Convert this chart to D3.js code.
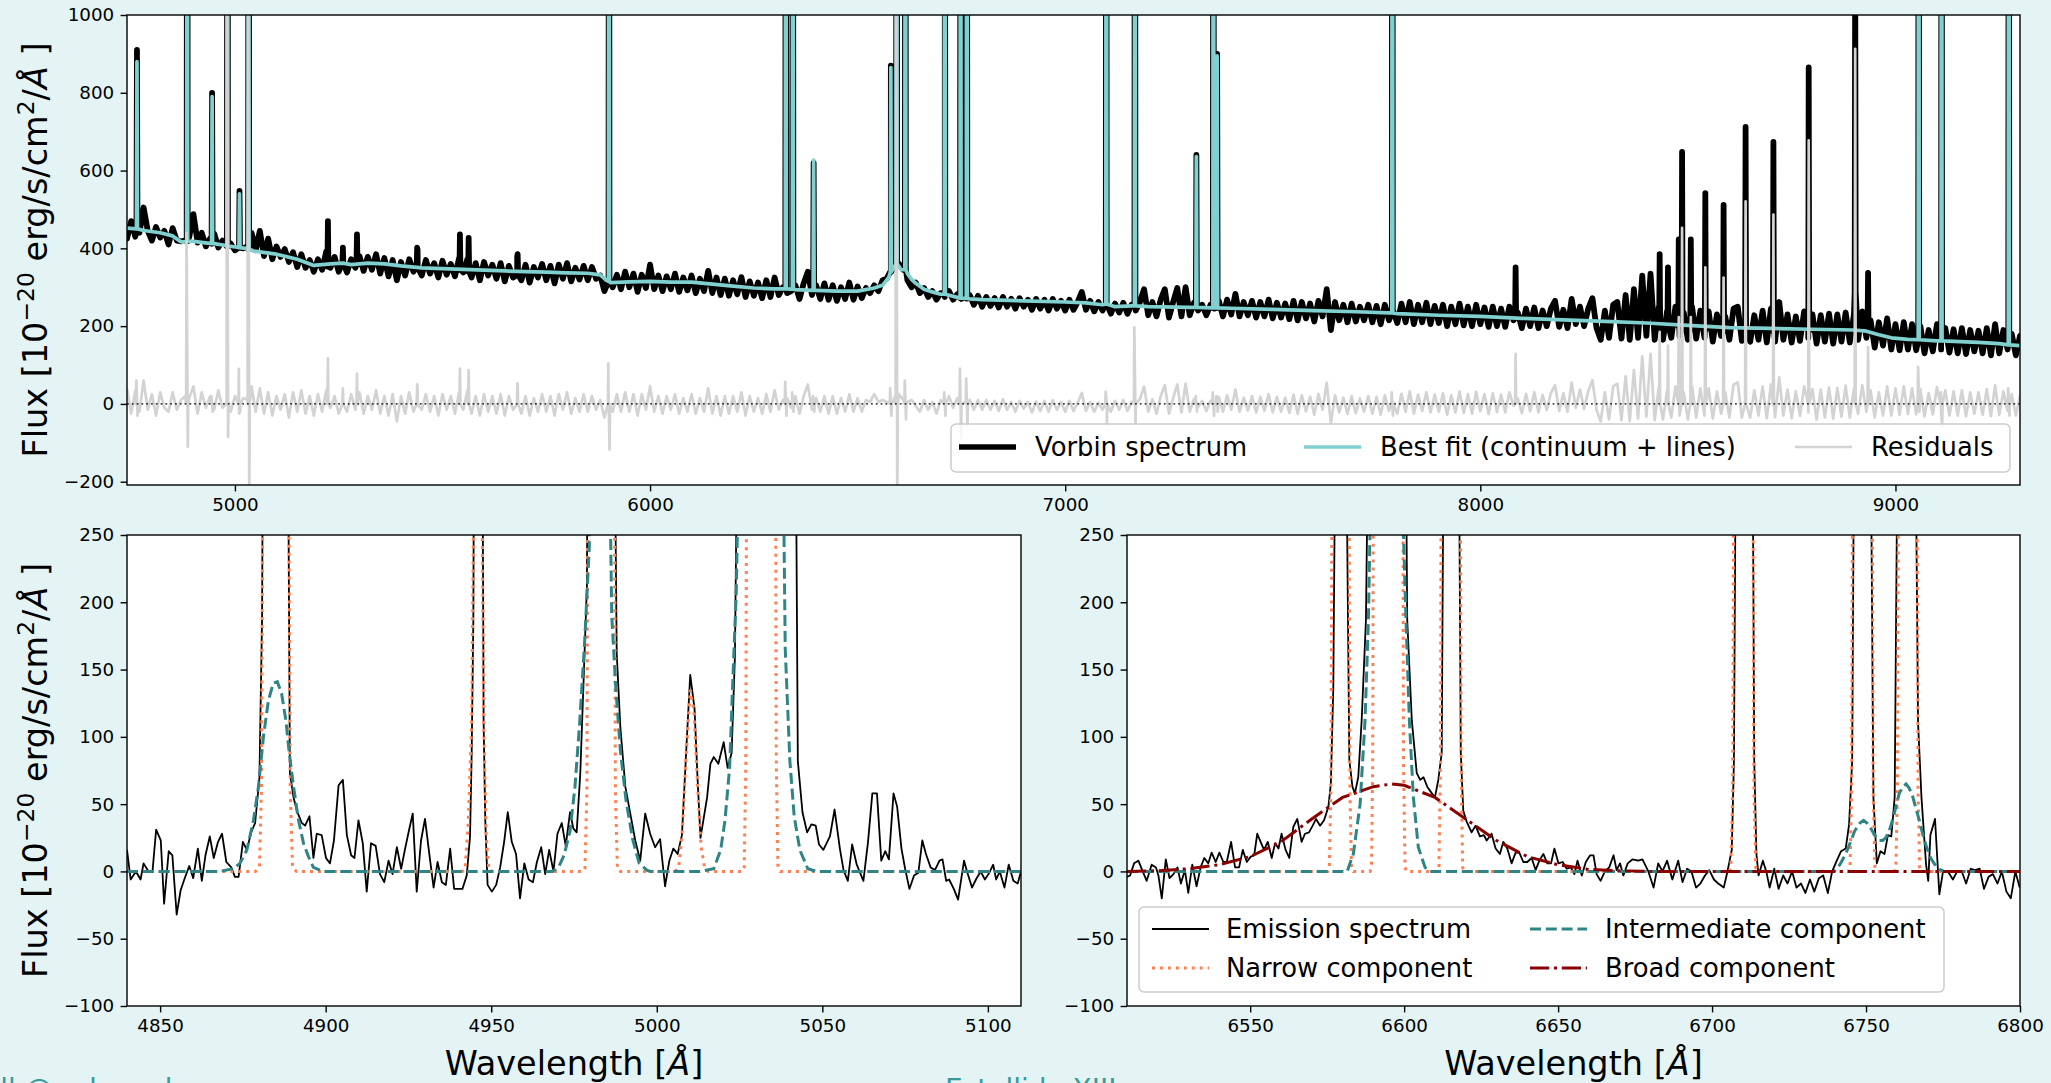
<!DOCTYPE html>
<html><head><meta charset="utf-8">
<script src="https://cdn.jsdelivr.net/npm/d3@7"></script>
<style>
html,body{margin:0;padding:0;background:#e4f4f4;}
svg{display:block;font-family:"DejaVu Sans",sans-serif;}
</style></head><body>
<svg id="c" width="2051" height="1083"></svg>
<script>
// ================= DATA =================
// ---- Top panel: full spectrum (sampled every 10 Å from 4740 Å) ----
const topWaveStart = 4740, topWaveStep = 10;
const topObsFlux = [
425,470,430,440,505,445,420,455,428,445,
410,452,420,418,420,430,488,415,440,405,
425,438,402,420,405,412,395,420,400,405,
440,395,445,380,425,372,405,378,398,365,
390,352,385,350,370,340,372,345,392,350,
378,340,395,338,372,350,380,342,378,345,
385,335,375,328,370,318,365,330,372,340,
395,330,370,335,362,325,368,332,360,328,
375,338,372,325,362,318,365,330,358,322,
362,315,355,325,380,318,358,312,352,325,
360,318,355,310,358,322,362,315,350,320,
355,318,352,322,330,290,318,300,332,295,
340,300,335,288,332,298,358,295,330,290,
328,295,335,288,325,292,330,285,322,290,
342,285,325,280,322,278,318,282,326,275,
315,278,312,272,318,275,325,280,300,285,
290,305,270,310,340,280,305,270,310,268,
305,265,300,270,312,268,302,272,298,285,
305,290,318,322,340,355,360,345,318,300,
312,285,298,275,290,268,285,275,290,268,
282,270,275,280,255,278,250,275,252,272,
248,275,250,270,245,272,250,268,242,270,
245,268,240,270,245,265,240,268,242,262,
288,242,265,238,262,240,255,232,258,235,
260,232,255,240,262,295,228,262,225,268,
295,222,262,298,225,300,228,260,240,255,
228,255,245,265,225,268,230,283,225,262,
228,265,222,262,225,268,220,260,222,258,
218,265,215,262,220,258,212,265,225,295,
190,262,215,255,210,258,212,250,215,255,
210,252,205,255,215,240,208,258,210,262,
205,255,210,260,205,252,208,255,200,250,
205,258,202,250,200,255,205,248,198,250,
200,245,198,250,215,235,195,245,200,248,
195,240,200,245,265,198,242,195,270,205,
250,200,245,272,195,165,240,170,255,262,
168,280,165,295,170,330,175,335,165,250,
165,240,170,250,175,235,165,250,168,240,
170,238,160,230,175,225,165,245,250,162,
235,160,228,165,240,158,245,160,262,165,
230,158,225,162,238,170,230,155,228,160,
232,155,230,160,235,158,230,165,238,170,
215,145,210,150,220,140,205,138,210,140,
205,138,200,130,190,135,205,140,195,132,
192,130,195,128,190,135,188,130,195,125,
205,130,190,140,180,125,175];
const topResid = [
40,-25,35,-20,60,-15,25,-30,30,-10,
-20,30,-15,10,20,15,45,-25,30,-10,
20,-15,35,-10,25,-20,20,-25,15,10,
45,-20,40,-25,30,-30,20,-15,25,-35,
30,-20,35,-25,20,-30,25,-20,35,-10,
20,-25,40,-20,25,-15,30,-25,20,-15,
35,-25,20,-30,25,-45,20,-25,30,-20,
45,-15,25,-20,20,-30,25,-15,20,-25,
30,-15,35,-25,20,-30,25,-20,20,-25,
25,-30,20,-15,45,-25,20,-30,15,-20,
25,-20,20,-30,25,-15,30,-25,15,-20,
25,-20,20,-15,10,-35,15,-20,25,-20,
30,-20,25,-30,25,-15,45,-20,20,-25,
20,-15,25,-25,15,-20,25,-25,15,-20,
40,-25,20,-30,20,-25,20,-20,30,-30,
20,-20,15,-25,25,-20,35,-15,10,15,
-10,20,-25,20,50,-15,15,-20,20,-25,
20,-25,15,-20,25,-20,15,-20,10,5,
25,5,10,5,-10,20,25,10,5,10,
-5,-20,10,-15,5,-25,10,0,20,-10,
15,0,5,10,-15,10,-15,10,-15,8,
-18,12,-15,5,-20,8,-12,5,-22,6,
-18,8,-20,10,-15,5,-20,8,-18,3,
28,-18,5,-20,3,-15,5,-20,8,-15,
10,-18,5,-10,12,45,-20,12,-25,20,
48,-25,15,50,-22,52,-20,12,-8,8,
-18,8,-2,18,-20,22,-15,37,-20,16,
-17,20,-22,18,-18,25,-22,18,-20,16,
-23,24,-25,22,-19,18,-28,25,-15,55,
-50,22,-22,16,-26,20,-24,14,-20,20,
-25,18,-28,22,-18,5,-25,26,-20,32,
-25,24,-18,30,-22,24,-20,27,-28,22,
-22,32,-23,25,-25,31,-19,25,-26,27,
-21,24,-22,30,-5,15,-24,26,-19,30,
-22,23,-16,28,48,-18,27,-20,55,-10,
37,-13,33,61,-16,-45,30,-40,45,52,
-42,71,-44,87,-38,122,-33,129,-42,45,
-40,35,-35,45,-30,30,-40,45,-35,40,
-30,40,-38,32,-25,30,-35,50,55,-35,
40,-35,35,-30,45,-37,50,-34,68,-30,
37,-37,32,-31,45,-22,38,-40,36,-35,
42,-38,41,-33,47,-35,40,-25,48,-20,
35,-35,30,-30,45,-30,40,-28,45,-26,
40,-27,38,-32,28,-27,43,-22,35,-30,
32,-30,35,-32,30,-25,30,-28,38,-32,
48,-28,32,-18,25,-30,20];
// best-fit continuum knots
const fitKnotWave = [4740,4780,4820,4850,4868,4875,4900,4950,4975,5000,5025,5045,5100,5150,5190,5230,5260,5280,5320,5360,5400,5450,5500,5550,5600,5650,5700,5750,5800,5850,5880,5895,5905,5950,6000,6050,6100,6150,6200,6250,6300,6350,6400,6450,6500,6540,6560,6575,6605,6620,6630,6640,6660,6680,6700,6770,6800,6900,7000,7050,7090,7120,7160,7200,7300,7400,7500,7600,7700,7780,7800,7900,8000,8100,8200,8300,8400,8500,8600,8700,8800,8900,8930,8960,8990,9030,9100,9200,9250,9300];
const fitKnotFlux = [452,446,440,432,418,416,418,412,408,404,400,393,385,372,356,360,362,358,362,360,355,350,348,346,344,342,340,339,337,336,332,318,312,314,315,313,313,308,303,298,296,294,292,290,290,298,305,325,345,335,320,310,295,288,282,270,268,265,262,260,255,250,252,250,248,246,243,240,237,234,232,228,225,220,216,212,208,202,196,194,192,190,187,178,170,166,162,158,155,150];
// fitted emission lines
const lineWave    = [4764,4885,4945,4982,5011,5033,5901,6327,6344,6394,6580,6594,6615,6710,6748,6763,7099,7168,7316,7357,7366,7788,9056,9111,9273];
const lineBase    = [450,418,412,406,402,398,315,296,295,292,340,360,345,282,272,271,257,252,248,247,247,234,165,162,152];
const lineFitPeak = [880,3000,790,3000,540,3000,3000,3000,3000,627,865,5000,3000,3000,3000,3000,3000,3000,636,3000,895,3000,3000,3000,3000];
const lineObsPeak = [910,3000,800,3000,548,3000,3000,3000,3000,620,870,5000,3000,3000,3000,3000,3000,3000,640,3000,900,3000,3000,3000,3000];
const lineResHi   = [60,440,20,1500,90,1500,104,57,30,20,40,1500,60,30,91,65,31,197,20,30,20,30,95,30,40];
const lineResLo   = [-30,-110,-20,-85,-20,-300,-117,-30,-20,-20,-30,-300,-40,-30,-88,-54,-54,-50,-20,-30,-20,-30,-20,-58,-30];
// unfitted features in the observed spectrum
const extraWave  = [5224,5260,5294,5439,5542,5563,5681,8085,8432,8452,8478,8486,8507,8542,8586,8639,8706,8791,8903,8934];
const extraObs   = [470,402,436,402,436,427,385,351,385,351,423,648,423,542,512,712,674,865,1200,337];
const extraResid = [117,40,78,50,91,87,53,129,185,150,223,453,223,351,325,521,487,678,913,146];
const topXTicks = [5000,6000,7000,8000,9000];
const topYTicks = [-200,0,200,400,600,800,1000];

// ---- Bottom-left panel: Hβ / [OIII] region ----
const emisLeft = [[4840.0,16],[4841.1,-6],[4842.7,0],[4844.1,-6],[4845.0,6],[4846.5,0],[4847.7,0],[4848.8,31],[4850.2,23],[4851.2,-24],[4852.6,15],[4853.7,12],[4855.0,-32],[4856.2,-14],[4857.3,-6],[4858.8,4],[4860.0,-5],[4861.4,17],[4862.6,-7],[4863.7,12],[4865.0,26],[4866.2,10],[4867.5,22],[4868.7,28],[4870.0,7],[4871.5,3],[4872.6,-4],[4873.7,-4],[4875.0,22],[4876.2,16],[4877.5,29],[4878.7,36],[4880.0,70],[4880.8,190],[4882.0,900],[4883.2,1800],[4884.5,2500],[4885.7,2500],[4887.0,1800],[4888.1,700],[4888.7,300],[4889.2,73],[4890.3,55],[4891.3,45],[4892.8,36],[4893.8,34],[4895.1,41],[4896.3,10],[4897.3,28],[4898.8,27],[4900.1,10],[4901.3,6],[4902.5,23],[4903.9,64],[4905.2,68],[4906.4,27],[4907.7,12],[4908.7,10],[4909.9,38],[4911.2,21],[4912.4,-15],[4913.7,21],[4915.1,19],[4916.4,-2],[4917.7,-8],[4919.0,8],[4920.2,-2],[4921.5,18],[4922.8,2],[4924.0,17],[4925.2,31],[4926.3,43],[4927.5,-15],[4928.8,23],[4930.0,39],[4931.3,13],[4932.6,-12],[4933.8,7],[4935.1,-8],[4936.3,-10],[4937.6,17],[4938.8,-13],[4940.1,-13],[4941.3,-13],[4942.6,-3],[4943.6,26],[4944.1,88],[4944.6,187],[4945.2,600],[4946.2,900],[4947.1,500],[4947.7,112],[4948.2,38],[4948.9,-10],[4950.2,-15],[4951.5,-10],[4952.7,3],[4953.9,22],[4955.0,44],[4956.2,22],[4957.5,13],[4958.7,-20],[4960.0,6],[4961.3,-6],[4962.6,-8],[4963.8,7],[4965.1,18],[4966.3,-2],[4967.5,16],[4968.8,0],[4970.0,28],[4971.3,36],[4972.5,19],[4973.8,44],[4974.8,32],[4975.8,29],[4976.9,73],[4977.9,142],[4978.9,212],[4979.6,600],[4981.0,2000],[4983.0,3000],[4985.0,2000],[4986.5,800],[4987.2,350],[4987.9,162],[4989.0,107],[4990.5,63],[4992.0,43],[4993.5,23],[4995.0,8],[4996.5,43],[4998.0,28],[4999.5,18],[5001.0,24],[5002.5,-11],[5003.8,8],[5005.0,17],[5006.3,13],[5007.6,27],[5008.9,90],[5010.1,146],[5011.4,121],[5012.3,70],[5013.2,25],[5014.2,40],[5015.2,55],[5016.2,80],[5017.2,85],[5018.6,80],[5020.2,96],[5021.4,77],[5022.6,88],[5023.6,160],[5024.2,300],[5025.5,1500],[5030.0,5000],[5035.0,5000],[5040.0,1500],[5041.8,400],[5042.6,82],[5044.0,44],[5045.4,29],[5046.7,35],[5048.0,34],[5049.0,20],[5050.3,16],[5052.3,26],[5053.7,46],[5055.3,17],[5056.4,1],[5057.7,-7],[5059.0,20],[5060.4,5],[5062.4,-7],[5063.8,22],[5065.1,58],[5066.5,58],[5067.8,8],[5069.0,15],[5070.1,9],[5071.5,58],[5072.6,48],[5073.9,17],[5075.0,2],[5076.3,-13],[5077.7,-3],[5079.0,-1],[5080.2,23],[5081.3,13],[5082.7,3],[5084.0,1],[5085.4,8],[5086.3,9],[5087.4,-7],[5088.3,-6],[5089.7,-13],[5091.0,-21],[5092.8,8],[5093.7,0],[5095.2,-12],[5096.4,-6],[5097.8,0],[5099.1,-6],[5100.2,-2],[5101.6,5],[5102.5,-6],[5103.6,0],[5105.0,-12],[5106.3,5],[5107.7,-7],[5109.0,-9],[5110.0,0]];
const narrowLeft = [[4840,0],[4878.8,0],[4880.0,3],[4880.6,60],[4881.2,400],[4882.5,2000],[4885.0,5000],[4887.5,2000],[4888.7,400],[4889.3,60],[4890.0,3],[4891.2,0],[4941.2,0],[4942.1,1],[4943.1,38],[4944.1,112],[4944.8,300],[4946.0,1000],[4947.2,300],[4947.7,112],[4948.5,26],[4949.3,1],[4950.5,0],[4977.5,0],[4978.3,2],[4978.9,60],[4979.4,500],[4983.2,6000],[4987.0,500],[4987.5,60],[4988.1,2],[4989.0,0],[5005.5,0],[5006.6,3],[5007.6,26],[5008.9,88],[5010.1,135],[5011.2,120],[5012.3,65],[5013.4,18],[5014.5,2],[5015.5,0],[5025.8,0],[5026.4,3],[5026.9,80],[5027.4,600],[5031.5,8000],[5035.6,600],[5036.1,80],[5036.6,3],[5037.3,0],[5110,0]];
const interLeft = [[4840,0],[4868.1,0],[4872.1,2],[4874.1,6],[4876.2,16],[4878.2,38],[4879.7,63],[4881.2,100],[4882.7,127],[4884.2,140],[4885.4,141],[4886.7,132],[4888.0,112],[4889.0,88],[4890.3,63],[4891.8,38],[4893.3,21],[4894.8,11],[4896.3,3],[4899.3,0],[4968.5,0],[4970.5,4],[4972.0,12],[4973.8,30],[4975.3,63],[4976.7,110],[4978.2,170],[4979.6,240],[4981.0,450],[4983.2,700],[4985.2,400],[4986.4,190],[4987.6,137],[4989.0,90],[4990.7,53],[4992.7,24],[4994.7,6],[4997.0,1],[4998.0,0],[5013.0,0],[5017.2,2],[5019.3,16],[5020.6,38],[5022.0,77],[5022.9,138],[5024.0,207],[5024.7,300],[5031.5,2000],[5038.2,300],[5038.8,165],[5040.2,82],[5041.5,41],[5043.2,16],[5045.6,2],[5048.3,0],[5110,0]];
const leftXTicks = [4850,4900,4950,5000,5050,5100];

// ---- Bottom-right panel: Hα / [NII] / [SII] region ----
const emisRight = [[6510.0,-4],[6511.0,-3],[6512.3,6],[6513.7,8],[6515.1,0],[6516.4,-7],[6518.0,5],[6519.4,3],[6520.2,-3],[6521.3,-20],[6522.6,9],[6523.8,-5],[6525.1,-2],[6526.4,3],[6527.5,-9],[6528.8,1],[6529.9,-16],[6531.2,5],[6532.6,-11],[6533.9,3],[6535.1,10],[6536.4,6],[6537.5,14],[6538.8,7],[6540.0,14],[6541.3,7],[6542.4,7],[6543.8,22],[6545.1,3],[6546.4,3],[6547.6,16],[6548.9,7],[6550.2,11],[6551.3,12],[6552.3,28],[6553.4,22],[6554.5,16],[6555.7,22],[6557.0,10],[6558.1,21],[6559.2,17],[6560.2,28],[6561.5,16],[6562.7,10],[6564.0,33],[6565.3,39],[6566.7,22],[6567.8,28],[6569.1,29],[6570.3,34],[6571.4,39],[6572.7,34],[6574.0,38],[6575.4,48],[6576.2,65],[6577.0,137],[6577.9,400],[6579.6,1500],[6581.3,300],[6582.2,83],[6583.2,63],[6584.0,58],[6585.1,70],[6586.2,112],[6587.6,187],[6588.7,400],[6594.5,8000],[6600.3,400],[6601.0,187],[6602.5,112],[6604.1,73],[6605.2,68],[6606.3,70],[6607.5,63],[6609.0,58],[6610.0,55],[6611.1,68],[6612.2,88],[6613.0,400],[6615.3,3000],[6617.6,400],[6618.4,88],[6619.2,45],[6620.3,37],[6621.9,29],[6623.2,34],[6624.6,26],[6625.9,27],[6626.8,23],[6628.4,28],[6629.7,17],[6631.1,13],[6632.2,22],[6633.5,17],[6634.9,6],[6636.2,14],[6637.4,14],[6638.7,7],[6640.0,7],[6641.4,10],[6642.7,1],[6643.9,8],[6645.2,13],[6646.5,6],[6647.7,6],[6648.8,17],[6650.1,6],[6651.5,7],[6652.8,2],[6654.1,3],[6655.3,-2],[6656.3,8],[6657.7,-3],[6659.0,7],[6660.4,12],[6661.5,12],[6662.5,-2],[6663.8,-7],[6665.2,0],[6666.6,3],[6668.0,12],[6669.0,1],[6670.1,6],[6671.2,-3],[6672.6,6],[6674.2,9],[6676.0,8],[6677.4,9],[6679.3,0],[6681.0,-12],[6682.5,6],[6683.9,0],[6685.4,8],[6687.1,-6],[6689.0,8],[6690.4,-8],[6691.9,2],[6693.3,0],[6694.8,-12],[6696.2,-9],[6697.7,-3],[6699.1,1],[6700.6,-6],[6702.0,-9],[6703.8,-12],[6705.0,0],[6706.4,16],[6707.1,82],[6707.9,400],[6710.4,3000],[6713.0,400],[6713.7,82],[6714.4,13],[6715.1,-3],[6716.5,8],[6717.6,0],[6718.7,-12],[6720.2,2],[6721.6,-13],[6723.1,-3],[6724.5,-9],[6726.0,0],[6727.4,-12],[6728.9,-9],[6730.3,-16],[6731.8,-6],[6733.2,-15],[6734.7,-5],[6736.1,-3],[6737.6,-16],[6739.0,0],[6740.5,8],[6741.9,15],[6743.4,17],[6744.5,35],[6745.5,82],[6746.3,400],[6748.8,3000],[6751.3,400],[6752.4,55],[6753.5,6],[6754.7,15],[6756.0,13],[6757.1,27],[6758.2,26],[6759.3,55],[6760.5,400],[6763.2,3000],[6765.8,400],[6766.9,110],[6768.0,55],[6769.5,5],[6770.2,-7],[6770.9,27],[6772.4,39],[6773.8,-17],[6775.0,0],[6776.6,0],[6778.2,-6],[6779.6,0],[6781.1,0],[6782.5,-9],[6784.0,2],[6785.4,1],[6786.9,2],[6788.3,-13],[6789.8,-4],[6791.2,-2],[6792.7,-9],[6794.1,0],[6795.6,-15],[6797.0,-20],[6798.5,0],[6799.9,-12]];
const narrowRight = [[6510,0],[6575.2,0],[6575.7,2],[6576.2,60],[6576.8,400],[6579.6,3000],[6582.0,400],[6582.4,60],[6582.9,2],[6583.5,0],[6588.9,0],[6589.4,3],[6589.8,80],[6590.3,600],[6594.8,8000],[6599.3,600],[6599.8,80],[6600.3,3],[6600.8,0],[6610.8,0],[6611.3,3],[6611.8,80],[6612.3,600],[6615.2,4000],[6618.0,600],[6618.5,80],[6619.0,3],[6619.6,0],[6705.6,0],[6706.1,3],[6706.7,60],[6707.3,500],[6710.2,3000],[6713.0,500],[6713.6,60],[6714.2,3],[6714.8,0],[6744.3,0],[6744.8,3],[6745.3,60],[6745.9,500],[6748.9,3000],[6751.8,500],[6752.3,60],[6752.9,3],[6753.4,0],[6759.2,0],[6759.7,3],[6760.2,60],[6760.8,500],[6763.5,3000],[6766.3,500],[6766.9,60],[6767.4,3],[6768.0,0],[6800,0]];
const interRight = [[6510,0],[6581.5,0],[6583.5,13],[6585.7,50],[6587.3,112],[6588.4,187],[6588.9,250],[6594.5,2000],[6599.8,250],[6600.6,187],[6601.7,112],[6603.0,55],[6604.6,18],[6606.8,3],[6608.4,0],[6739.7,0],[6741.5,5],[6743.4,13],[6745.0,22],[6746.3,30],[6748.0,36],[6749.2,38],[6750.3,36],[6751.3,33],[6752.8,27],[6754.3,23],[6755.4,23],[6756.4,25],[6757.5,30],[6758.6,38],[6759.7,48],[6760.8,58],[6762.0,63],[6763.0,65],[6764.0,62],[6765.1,56],[6766.2,47],[6767.3,38],[6768.4,28],[6769.5,19],[6771.0,10],[6772.4,5],[6774.0,1.5],[6775.3,0],[6800,0]];
const broadRight = [[6510,0],[6520,0.5],[6530,2],[6540,5],[6550,11],[6560,22],[6570,39],[6580,55],[6590,63],[6596,65],[6600,64],[6610,55],[6620,39],[6630,23],[6640,11],[6650,5],[6660,1.5],[6670,0.5],[6680,0],[6800,0]];
const rightXTicks = [6550,6600,6650,6700,6750,6800];
const botYTicks = [-100,-50,0,50,100,150,200,250];

// footer texts (cut off by the bottom edge in the source slide)
const footerLeft = 'Marshall @ ed.ac.uk';
const footerCenter = 'Estallido XIII';

// ================= DRAW =================
const W = 2051, H = 1083;
const svg = d3.select('#c');
svg.append('rect').attr('width', W).attr('height', H).attr('fill', '#e4f4f4');
const FS_TICK = 18.3, FS_LEG = 25.8, FS_LAB = 33.5;
const C = {cyan:'#80d0d0', gray:'#d3d3d3', orange:'#ff7f50', teal:'#2f8585', red:'#8b0000'};

function makePanel(id, box, xDom, yDom, xTicks, yTicks) {
  const x = d3.scaleLinear().domain(xDom).range([box.x0, box.x1]);
  const y = d3.scaleLinear().domain(yDom).range([box.y1, box.y0]);
  svg.append('rect').attr('x', box.x0).attr('y', box.y0)
    .attr('width', box.x1 - box.x0).attr('height', box.y1 - box.y0).attr('fill', '#fff');
  svg.append('clipPath').attr('id', id).append('rect')
    .attr('x', box.x0).attr('y', box.y0).attr('width', box.x1 - box.x0).attr('height', box.y1 - box.y0);
  const g = svg.append('g').attr('clip-path', `url(#${id})`);
  const axes = () => {
    const fmt = d3.format('d');
    const ax = svg.append('g').attr('transform', `translate(0,${box.y1})`)
      .call(d3.axisBottom(x).tickValues(xTicks).tickFormat(fmt).tickSize(6.4).tickPadding(6.4));
    const ay = svg.append('g').attr('transform', `translate(${box.x0},0)`)
      .call(d3.axisLeft(y).tickValues(yTicks).tickFormat(fmt).tickSize(6.4).tickPadding(6.4));
    [ax, ay].forEach(a => {
      a.select('.domain').remove();
      a.selectAll('line').attr('stroke', '#000').attr('stroke-width', 1.4);
      a.selectAll('text').attr('font-size', FS_TICK).attr('fill', '#000')
        .attr('font-family', '"DejaVu Sans",sans-serif');
    });
    svg.append('rect').attr('x', box.x0).attr('y', box.y0)
      .attr('width', box.x1 - box.x0).attr('height', box.y1 - box.y0)
      .attr('fill', 'none').attr('stroke', '#000').attr('stroke-width', 1.4);
  };
  return {x, y, g, axes, box};
}

function drawLine(p, data, opt) {
  const line = d3.line().x(d => p.x(d[0])).y(d => p.y(d[1]));
  const path = p.g.append('path').attr('d', line(data)).attr('fill', 'none')
    .attr('stroke', opt.color).attr('stroke-width', opt.w)
    .attr('stroke-linejoin', opt.join || 'round').attr('stroke-linecap', opt.cap || 'butt');
  if (opt.dash) path.attr('stroke-dasharray', opt.dash);
  return path;
}

// ---------- top panel ----------
const topP = makePanel('clipTop', {x0:127, x1:2020, y0:15, y1:485}, [4740, 9300], [-208.5, 1000], topXTicks, topYTicks);
const hw = 1.2;
const obsPts = topObsFlux.map((f, i) => [topWaveStart + i * topWaveStep, f]);
lineWave.forEach((w, i) => obsPts.push([w - hw, lineBase[i]], [w, lineObsPeak[i]], [w + hw, lineBase[i]]));
extraWave.forEach((w, i) => obsPts.push([w - hw, extraObs[i] - extraResid[i]], [w, extraObs[i]], [w + hw, extraObs[i] - extraResid[i]]));
obsPts.sort((a, b) => a[0] - b[0]);
const fitPts = fitKnotWave.map((w, i) => [w, fitKnotFlux[i]]);
lineWave.forEach((w, i) => fitPts.push([w - hw, lineBase[i]], [w, lineFitPeak[i]], [w + hw, lineBase[i]]));
fitPts.sort((a, b) => a[0] - b[0]);
const resPts = topResid.map((f, i) => [topWaveStart + i * topWaveStep, f]);
lineWave.forEach((w, i) => resPts.push([w - 2.5, 0], [w - 1.5, lineResHi[i]], [w + 1.5, lineResLo[i]], [w + 2.5, 0]));
extraWave.forEach((w, i) => resPts.push([w - hw, 0], [w, extraResid[i]], [w + hw, 0]));
resPts.sort((a, b) => a[0] - b[0]);

drawLine(topP, obsPts, {color:'#000', w:5.8, cap:'round'});
drawLine(topP, fitPts, {color:C.cyan, w:3.7, cap:'round'});
drawLine(topP, resPts, {color:C.gray, w:2.7, cap:'round'});
topP.g.append('line').attr('x1', topP.box.x0).attr('x2', topP.box.x1)
  .attr('y1', topP.y(0)).attr('y2', topP.y(0))
  .attr('stroke', '#000').attr('stroke-width', 1.2).attr('stroke-dasharray', '1.8,3');
topP.axes();

// top legend
(function(){
  const g = svg.append('g');
  g.append('rect').attr('x', 951).attr('y', 424).attr('width', 1059).attr('height', 48)
    .attr('rx', 5).attr('fill', '#fff').attr('fill-opacity', 0.8)
    .attr('stroke', '#cccccc').attr('stroke-width', 1.5);
  const items = [
    {lx:959, tx:1035, label:'Vorbin spectrum', color:'#000', w:5.5},
    {lx:1304, tx:1380, label:'Best fit (continuum + lines)', color:C.cyan, w:3.7},
    {lx:1795, tx:1871, label:'Residuals', color:C.gray, w:2.7}];
  items.forEach(it => {
    g.append('line').attr('x1', it.lx).attr('x2', it.lx + 57).attr('y1', 447).attr('y2', 447)
      .attr('stroke', it.color).attr('stroke-width', it.w);
    g.append('text').attr('x', it.tx).attr('y', 456).attr('font-size', FS_LEG).attr('fill', '#000').text(it.label);
  });
})();

// ---------- bottom-left panel ----------
const blP = makePanel('clipBL', {x0:127, x1:1021, y0:535, y1:1006}, [4840, 5110], [-100, 250], leftXTicks, botYTicks);
drawLine(blP, emisLeft, {color:'#000', w:1.8});
drawLine(blP, narrowLeft, {color:C.orange, w:3, dash:'3,4.95', join:'miter'});
drawLine(blP, interLeft, {color:C.teal, w:3, dash:'11,4.8', join:'miter'});
blP.axes();

// ---------- bottom-right panel ----------
const brP = makePanel('clipBR', {x0:1127, x1:2020, y0:535, y1:1006}, [6510, 6800], [-100, 250], rightXTicks, botYTicks);
drawLine(brP, emisRight, {color:'#000', w:1.8});
drawLine(brP, narrowRight, {color:C.orange, w:3, dash:'3,4.95', join:'miter'});
drawLine(brP, interRight, {color:C.teal, w:3, dash:'11,4.8', join:'miter'});
drawLine(brP, broadRight, {color:C.red, w:3, dash:'19.2,4.8,3,4.8', join:'miter'});
brP.axes();

// bottom legend
(function(){
  const g = svg.append('g');
  g.append('rect').attr('x', 1139).attr('y', 907).attr('width', 805).attr('height', 85)
    .attr('rx', 5).attr('fill', '#fff').attr('fill-opacity', 0.8)
    .attr('stroke', '#cccccc').attr('stroke-width', 1.5);
  const items = [
    {lx:1152, tx:1226, y:929, label:'Emission spectrum', color:'#000', w:1.8},
    {lx:1152, tx:1226, y:968, label:'Narrow component', color:C.orange, w:3, dash:'3,4.95'},
    {lx:1530, tx:1605, y:929, label:'Intermediate component', color:C.teal, w:3, dash:'11,4.8'},
    {lx:1530, tx:1605, y:968, label:'Broad component', color:C.red, w:3, dash:'19.2,4.8,3,4.8'}];
  items.forEach(it => {
    const l = g.append('line').attr('x1', it.lx).attr('x2', it.lx + 57).attr('y1', it.y).attr('y2', it.y)
      .attr('stroke', it.color).attr('stroke-width', it.w);
    if (it.dash) l.attr('stroke-dasharray', it.dash);
    g.append('text').attr('x', it.tx).attr('y', it.y + 9).attr('font-size', FS_LEG).attr('fill', '#000').text(it.label);
  });
})();

// ---------- axis labels ----------
function ylab(cx, cy) {
  const t = svg.append('text').attr('transform', `translate(${cx},${cy}) rotate(-90)`)
    .attr('text-anchor', 'middle').attr('font-size', FS_LAB).attr('fill', '#000');
  t.append('tspan').text('Flux [10');
  t.append('tspan').attr('dy', -13).attr('font-size', FS_LAB * 0.7).text('\u221220');
  t.append('tspan').attr('dy', 13).text(' erg/s/cm');
  t.append('tspan').attr('dy', -13).attr('font-size', FS_LAB * 0.7).text('2');
  t.append('tspan').attr('dy', 13).text('/');
  t.append('tspan').attr('font-style', 'italic').text('\u00c5');
  t.append('tspan').text(' ]');
}
ylab(47, 250);
ylab(47, 770.5);
function xlab(cx) {
  const t = svg.append('text').attr('x', cx).attr('y', 1075).attr('text-anchor', 'middle')
    .attr('font-size', FS_LAB).attr('fill', '#000');
  t.append('tspan').text('Wavelength [');
  t.append('tspan').attr('font-style', 'italic').text('\u00c5');
  t.append('tspan').text(']');
}
xlab(574);
xlab(1573.5);

// footer (its lower part falls below the bottom edge, as in the source slide)
svg.append('text').attr('x', -102).attr('y', 1099).attr('font-size', 28).attr('fill', '#3a9a9a').text(footerLeft);
svg.append('text').attr('x', 945).attr('y', 1099).attr('font-size', 28).attr('fill', '#3a9a9a').text(footerCenter);
</script></body></html>
